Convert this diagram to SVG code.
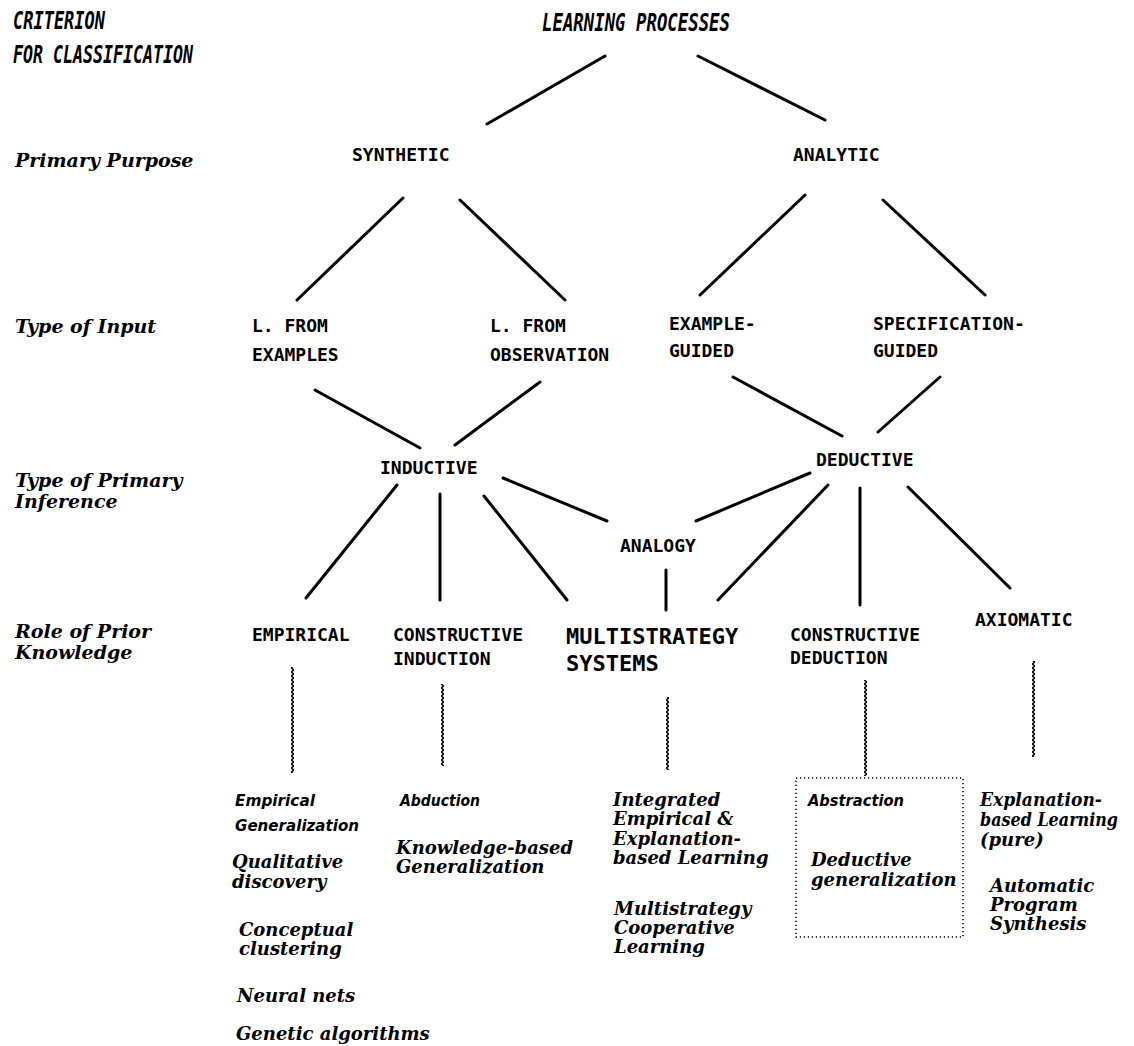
<svg xmlns="http://www.w3.org/2000/svg" width="1134" height="1046" viewBox="0 0 1134 1046">
<defs>
<pattern id="zig" patternUnits="userSpaceOnUse" x="0" y="0" width="3" height="4">
<path d="M0.3,0 L2.7,2 L0.3,4" fill="none" stroke="#000" stroke-width="1.4"/>
</pattern>
<style>
.hd{font-family:"DejaVu Sans Mono",monospace;font-weight:bold;font-style:oblique;font-size:24px;fill:#000}
.cap{font-family:"DejaVu Sans Mono",monospace;font-weight:bold;font-size:18px;fill:#000}
.big{font-size:22px}
.lbl{font-family:"DejaVu Serif",serif;font-weight:bold;font-style:italic;font-size:19px;fill:#000}
.it{font-family:"DejaVu Serif",serif;font-weight:bold;font-style:italic;font-size:18px;fill:#000}
.dec{font-family:"DejaVu Sans",sans-serif;font-weight:bold;font-style:oblique;font-size:16px;fill:#000}
.ln{stroke:#000;stroke-width:3;stroke-linecap:round;fill:none}
.wv{fill:url(#zig)}
.box{fill:none;stroke:#000;stroke-width:1.6;stroke-dasharray:1.2 2.8}
</style>
</defs>
<rect width="1134" height="1046" fill="#fff"/>

<g id="criteria">
<text class="hd" x="13" y="29" textLength="92" lengthAdjust="spacingAndGlyphs">CRITERION</text>
<text class="hd" x="13" y="63" textLength="180" lengthAdjust="spacingAndGlyphs">FOR CLASSIFICATION</text>
<text class="lbl" x="15" y="167">Primary Purpose</text>
<text class="lbl" x="15" y="333">Type of Input</text>
<text class="lbl" x="15" y="487">Type of Primary</text>
<text class="lbl" x="15" y="508">Inference</text>
<text class="lbl" x="15" y="638">Role of Prior</text>
<text class="lbl" x="15" y="659">Knowledge</text>
</g>

<g id="connectors">
<line class="ln" x1="605" y1="56" x2="487" y2="124"/>
<line class="ln" x1="698" y1="56" x2="825" y2="120"/>
<line class="ln" x1="403" y1="198" x2="297" y2="300"/>
<line class="ln" x1="460" y1="200" x2="565" y2="300"/>
<line class="ln" x1="805" y1="195" x2="700" y2="295"/>
<line class="ln" x1="883" y1="200" x2="985" y2="295"/>
<line class="ln" x1="315" y1="390" x2="420" y2="448"/>
<line class="ln" x1="540" y1="382" x2="455" y2="445"/>
<line class="ln" x1="733" y1="377" x2="842" y2="436"/>
<line class="ln" x1="940" y1="377" x2="878" y2="432"/>
<line class="ln" x1="397" y1="485" x2="306" y2="598"/>
<line class="ln" x1="440" y1="494" x2="440" y2="600"/>
<line class="ln" x1="484" y1="496" x2="567" y2="600"/>
<line class="ln" x1="503" y1="478" x2="607" y2="521"/>
<line class="ln" x1="810" y1="473" x2="696" y2="521"/>
<line class="ln" x1="828" y1="485" x2="718" y2="600"/>
<line class="ln" x1="860" y1="488" x2="860" y2="605"/>
<line class="ln" x1="908" y1="487" x2="1010" y2="588"/>
<line class="ln" x1="666" y1="570" x2="666" y2="610"/>
<rect class="wv" x="291" y="667" width="3" height="106"/>
<rect class="wv" x="441" y="684" width="3" height="82"/>
<rect class="wv" x="666" y="697" width="3" height="73"/>
<rect class="wv" x="864" y="680" width="3" height="96"/>
<rect class="wv" x="1032" y="661" width="3" height="96"/>
</g>

<g id="learning-processes"><text class="hd" x="542" y="31" textLength="188" lengthAdjust="spacingAndGlyphs">LEARNING PROCESSES</text></g>
<g id="synthetic"><text class="cap" x="352" y="161">SYNTHETIC</text></g>
<g id="analytic"><text class="cap" x="793" y="161">ANALYTIC</text></g>
<g id="l-from-examples"><text class="cap" x="252" y="332">L. FROM</text><text class="cap" x="252" y="361">EXAMPLES</text></g>
<g id="l-from-observation"><text class="cap" x="490" y="332">L. FROM</text><text class="cap" x="490" y="361">OBSERVATION</text></g>
<g id="example-guided"><text class="cap" x="669" y="330">EXAMPLE-</text><text class="cap" x="669" y="357">GUIDED</text></g>
<g id="specification-guided"><text class="cap" x="873" y="330">SPECIFICATION-</text><text class="cap" x="873" y="357">GUIDED</text></g>
<g id="inductive"><text class="cap" x="380" y="474">INDUCTIVE</text></g>
<g id="deductive"><text class="cap" x="816" y="466">DEDUCTIVE</text></g>
<g id="analogy"><text class="cap" x="620" y="552">ANALOGY</text></g>
<g id="empirical"><text class="cap" x="252" y="641">EMPIRICAL</text></g>
<g id="constructive-induction"><text class="cap" x="393" y="641">CONSTRUCTIVE</text><text class="cap" x="393" y="665">INDUCTION</text></g>
<g id="multistrategy"><text class="cap big" x="566" y="644">MULTISTRATEGY</text><text class="cap big" x="566" y="671">SYSTEMS</text></g>
<g id="constructive-deduction"><text class="cap" x="790" y="641">CONSTRUCTIVE</text><text class="cap" x="790" y="664">DEDUCTION</text></g>
<g id="axiomatic"><text class="cap" x="975" y="626">AXIOMATIC</text></g>

<g id="empirical-examples">
<text class="dec" x="235" y="806" textLength="80" lengthAdjust="spacingAndGlyphs">Empirical</text>
<text class="dec" x="235" y="831" textLength="124" lengthAdjust="spacingAndGlyphs">Generalization</text>
<text class="it" x="232" y="868">Qualitative</text>
<text class="it" x="232" y="888">discovery</text>
<text class="it" x="239" y="936">Conceptual</text>
<text class="it" x="239" y="955">clustering</text>
<text class="it" x="237" y="1002">Neural nets</text>
<text class="it" x="236" y="1040">Genetic algorithms</text>
</g>
<g id="constructive-induction-examples">
<text class="dec" x="400" y="806" textLength="80" lengthAdjust="spacingAndGlyphs">Abduction</text>
<text class="it" x="396" y="854">Knowledge-based</text>
<text class="it" x="396" y="873">Generalization</text>
</g>
<g id="multistrategy-examples">
<text class="it" x="613" y="806">Integrated</text>
<text class="it" x="613" y="825">Empirical &amp;</text>
<text class="it" x="613" y="845">Explanation-</text>
<text class="it" x="613" y="864">based Learning</text>
<text class="it" x="614" y="915">Multistrategy</text>
<text class="it" x="614" y="934">Cooperative</text>
<text class="it" x="614" y="953">Learning</text>
</g>
<g id="constructive-deduction-examples">
<rect class="box" x="796" y="778" width="167" height="159"/>
<text class="dec" x="808" y="806" textLength="96" lengthAdjust="spacingAndGlyphs">Abstraction</text>
<text class="it" x="811" y="866">Deductive</text>
<text class="it" x="811" y="886">generalization</text>
</g>
<g id="axiomatic-examples">
<text class="it" x="980" y="806" textLength="122" lengthAdjust="spacingAndGlyphs">Explanation-</text>
<text class="it" x="980" y="826" textLength="138" lengthAdjust="spacingAndGlyphs">based Learning</text>
<text class="it" x="980" y="846">(pure)</text>
<text class="it" x="990" y="892">Automatic</text>
<text class="it" x="990" y="911">Program</text>
<text class="it" x="990" y="930">Synthesis</text>
</g>
</svg>
